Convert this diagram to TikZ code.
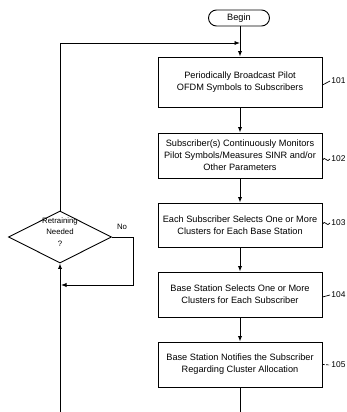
\documentclass[tikz,border=0pt]{standalone}
\usepackage{fontspec}
\setmainfont{Liberation Sans}
\usetikzlibrary{arrows.meta,shapes.geometric}
\begin{document}
\begin{tikzpicture}[x=1pt,y=-1pt,
  line width=0.9pt,
  txt/.style={font=\fontsize{9.2}{12}\selectfont},
  smalltxt/.style={font=\fontsize{7.8}{11.5}\selectfont},
  procbox/.style={draw, txt, minimum width=164pt, align=center, inner sep=0pt},
  arr/.style={-{Latex[length=5.5pt,width=4.2pt]}},
  lbl/.style={font=\fontsize{8.4}{10}\selectfont, anchor=west, inner sep=0pt},
  tick/.style={line width=0.7pt}]
\useasboundingbox (0,0) rectangle (347,412);

\node[draw, txt, rounded corners=8pt, minimum width=61pt, minimum height=16pt, inner sep=0pt] (begin) at (239,18) {Begin};

\node[procbox, minimum height=50pt] (b101) at (240,82) {Periodically Broadcast Pilot\\OFDM Symbols to Subscribers};
\node[procbox, minimum height=45pt] (b102) at (240,155.5) {Subscriber(s) Continuously Monitors\\Pilot Symbols/Measures SINR and/or\\Other Parameters};
\node[procbox, minimum height=44pt] (b103) at (240,225) {Each Subscriber Selects One or More\\Clusters for Each Base Station};
\node[procbox, minimum height=45pt] (b104) at (240,294.5) {Base Station Selects One or More\\Clusters for Each Subscriber};
\node[procbox, minimum height=45pt] (b105) at (240,364.5) {Base Station Notifies the Subscriber\\Regarding Cluster Allocation};

\node[draw, diamond, minimum width=103pt, minimum height=52pt, inner sep=0pt] (dec) at (60,237) {};
\node[smalltxt, align=center, inner sep=0pt] (dectxt) at (60,232) {Retraining\\Needed\\?};
\node[smalltxt, inner sep=0pt] (no) at (122,227) {No};

\coordinate (j) at (240,43);
\coordinate (n2) at (133,285);
\coordinate (n3) at (61,285);
\coordinate (botL) at (60,412);
\coordinate (botR) at (240,412);

\draw[arr] (begin.south -| j) -- (b101.north);
\draw[arr] (dec.north) |- (j);
\draw[arr] (b101) -- (b102);
\draw[arr] (b102) -- (b103);
\draw[arr] (b103) -- (b104);
\draw[arr] (b104) -- (b105);
\draw (b105) -- (botR);
\draw[arr] (botL) -- (dec.south);
\draw[arr] (dec.east) -| (n2) -- (n3);

% reference labels
\node[lbl] (l101) at (331,81) {101};
\node[lbl] (l102) at (331,159) {102};
\node[lbl] (l103) at (331,223) {103};
\node[lbl] (l104) at (331,295) {104};
\node[lbl] (l105) at (331,365) {105};
\draw[tick] (b101.east |- 0,85) -- ([xshift=-1pt]l101.west);
\draw[tick] (b102.east |- 0,160) .. controls (325,155) and (327,164) .. ([xshift=-1pt]l102.west);
\draw[tick] (b103.east |- 0,224) .. controls (325,219) and (327,228) .. ([xshift=-1pt]l103.west);
\draw[tick] (b104.east |- 0,297) -- ([xshift=-1pt]l104.west);
\draw[tick, dash pattern=on 2.5pt off 1.2pt] (b105.east) -- ([xshift=-1pt]l105.west);
\end{tikzpicture}
\end{document}
